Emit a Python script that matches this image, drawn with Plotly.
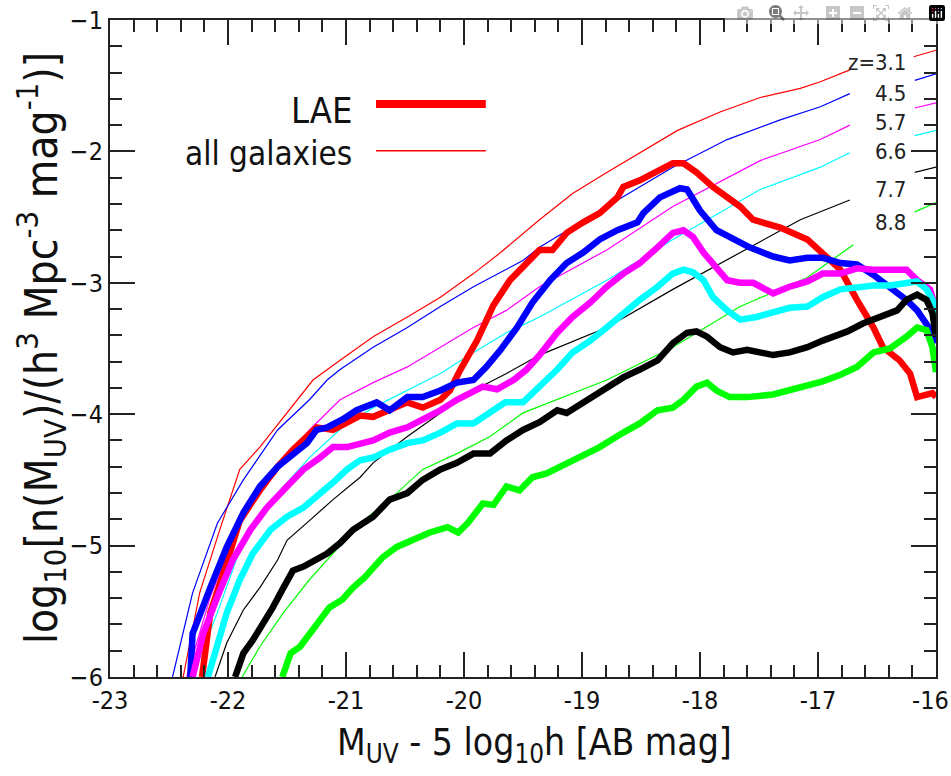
import plotly.graph_objects as go

# ---------------- data ----------------
redshifts = ["3.1", "4.5", "5.7", "6.6", "7.7", "8.8"]
colors = ["#ff0000", "#0000ff", "#ff00ff", "#00ffff", "#000000", "#00ff00"]

# all galaxies (thin lines) ; None marks the gap under the z labels
all_x_31 = [-22.38, -22.24, -22.07, -21.90, -21.73, -21.50, -21.28, -21.05, -20.77, -20.48, -20.20, -19.92, -19.69, -19.36, -19.08, -18.79, -18.51, -18.19, -17.83, -17.49, -17.15, -16.98, -16.73, None, -16.19, -16.0]
all_y_31 = [-6.0, -5.36, -4.88, -4.42, -4.25, -3.99, -3.74, -3.59, -3.41, -3.26, -3.11, -2.93, -2.77, -2.52, -2.32, -2.16, -2.01, -1.84, -1.70, -1.59, -1.52, -1.47, -1.38, None, -1.28, -1.23]

all_x_45 = [-22.47, -22.30, -22.09, -21.87, -21.58, -21.31, -21.16, -21.05, -20.77, -20.48, -20.20, -19.92, -19.50, -19.36, -18.79, -18.23, -17.77, -17.32, -16.98, -16.73, None, -16.18, -16.0]
all_y_45 = [-6.0, -5.36, -4.83, -4.50, -4.12, -3.89, -3.74, -3.66, -3.49, -3.34, -3.18, -3.03, -2.83, -2.73, -2.42, -2.12, -1.91, -1.76, -1.66, -1.56, None, -1.46, -1.41]

all_x_57 = [-22.35, -22.15, -21.87, -21.58, -21.31, -21.05, -20.77, -20.48, -20.20, -19.92, -19.64, -19.36, -18.79, -18.23, -17.49, -16.98, -16.73, None, -16.18, -16.0]
all_y_57 = [-6.0, -5.39, -4.77, -4.42, -4.12, -3.89, -3.76, -3.64, -3.49, -3.34, -3.21, -3.03, -2.75, -2.42, -2.07, -1.91, -1.80, None, -1.67, -1.63]

all_x_66 = [-22.30, -22.09, -21.87, -21.58, -21.31, -21.03, -20.77, -20.48, -20.20, -19.92, -19.64, -19.36, -18.79, -18.23, -17.49, -16.98, -16.73, None, -16.18, -16.0]
all_y_66 = [-6.0, -5.51, -4.96, -4.60, -4.33, -4.10, -3.95, -3.82, -3.69, -3.53, -3.38, -3.26, -2.98, -2.67, -2.29, -2.12, -2.01, None, -1.88, -1.84]

all_x_77 = [-22.11, -22.01, -21.87, -21.73, -21.58, -21.50, -21.31, -21.11, -20.88, -20.77, -20.48, -20.20, -19.92, -19.64, -19.36, -18.79, -18.23, -17.66, -17.15, -16.73, None, -16.18, -16.0]
all_y_77 = [-6.0, -5.74, -5.49, -5.32, -5.11, -4.96, -4.81, -4.65, -4.48, -4.37, -4.17, -3.99, -3.82, -3.69, -3.55, -3.34, -3.05, -2.77, -2.52, -2.37, None, -2.16, -2.12]

all_x_88 = [-21.88, -21.73, -21.53, -21.31, -21.03, -20.88, -20.63, -20.35, -20.06, -19.78, -19.50, -19.19, -18.79, -18.23, -17.66, -17.09, -16.70, None, -16.18, -16.0]
all_y_88 = [-6.0, -5.77, -5.51, -5.26, -4.98, -4.83, -4.65, -4.42, -4.30, -4.17, -3.99, -3.88, -3.74, -3.49, -3.18, -2.96, -2.71, None, -2.46, -2.39]

# LAE (thick lines)
lae_x_31 = [-22.22, -22.15, -22.01, -21.90, -21.73, -21.58, -21.45, -21.33, -21.25, -21.11, -20.99, -20.88, -20.77, -20.63, -20.48, -20.35, -20.20, -20.12, -20.03, -19.89, -19.75, -19.61, -19.47, -19.36, -19.25, -19.13, -18.99, -18.85, -18.70, -18.65, -18.51, -18.34, -18.23, -18.14, -18.03, -17.89, -17.77, -17.66, -17.55, -17.32, -17.09, -16.96, -16.81, -16.67, -16.53, -16.45, -16.31, -16.22, -16.16, -16.03, -16.0]
lae_y_31 = [-6.0, -5.51, -5.13, -4.81, -4.58, -4.40, -4.27, -4.17, -4.10, -4.12, -4.06, -4.01, -4.02, -3.97, -3.91, -3.95, -3.89, -3.82, -3.66, -3.44, -3.17, -2.98, -2.85, -2.75, -2.75, -2.62, -2.54, -2.47, -2.35, -2.27, -2.22, -2.14, -2.09, -2.09, -2.16, -2.27, -2.35, -2.42, -2.52, -2.58, -2.67, -2.77, -2.90, -3.13, -3.34, -3.49, -3.59, -3.69, -3.87, -3.84, -3.87]

lae_x_45 = [-22.32, -22.30, -22.15, -22.01, -21.87, -21.73, -21.58, -21.45, -21.33, -21.25, -21.16, -21.03, -20.91, -20.74, -20.63, -20.48, -20.35, -20.20, -20.06, -19.92, -19.81, -19.69, -19.55, -19.42, -19.27, -19.13, -18.99, -18.85, -18.70, -18.53, -18.48, -18.34, -18.17, -18.11, -18.0, -17.86, -17.75, -17.58, -17.38, -17.24, -17.09, -16.96, -16.81, -16.67, -16.53, -16.39, -16.25, -16.16, -16.08, -16.03, -16.0]
lae_y_45 = [-6.0, -5.67, -5.32, -5.01, -4.75, -4.55, -4.40, -4.30, -4.22, -4.12, -4.10, -4.04, -3.97, -3.91, -3.97, -3.87, -3.87, -3.82, -3.76, -3.74, -3.64, -3.51, -3.34, -3.15, -2.98, -2.85, -2.77, -2.67, -2.60, -2.54, -2.47, -2.35, -2.28, -2.29, -2.45, -2.60, -2.65, -2.73, -2.80, -2.83, -2.81, -2.81, -2.85, -2.86, -2.94, -3.03, -3.13, -3.21, -3.31, -3.38, -3.46]

lae_x_57 = [-22.30, -22.21, -22.09, -21.96, -21.81, -21.67, -21.50, -21.36, -21.22, -21.11, -20.99, -20.88, -20.77, -20.63, -20.48, -20.35, -20.20, -20.06, -19.92, -19.84, -19.72, -19.58, -19.47, -19.36, -19.21, -19.08, -18.93, -18.79, -18.65, -18.51, -18.36, -18.23, -18.14, -18.06, -17.97, -17.89, -17.77, -17.66, -17.55, -17.38, -17.24, -17.09, -16.96, -16.81, -16.67, -16.53, -16.39, -16.25, -16.16, -16.05, -16.0]
lae_y_57 = [-6.0, -5.67, -5.39, -5.11, -4.88, -4.71, -4.55, -4.42, -4.33, -4.25, -4.25, -4.23, -4.20, -4.14, -4.10, -4.04, -3.97, -3.89, -3.82, -3.79, -3.81, -3.74, -3.66, -3.55, -3.38, -3.26, -3.15, -3.03, -2.93, -2.85, -2.73, -2.62, -2.60, -2.65, -2.77, -2.85, -2.98, -3.00, -3.00, -3.08, -3.03, -2.99, -2.93, -2.93, -2.89, -2.90, -2.90, -2.90, -2.98, -3.05, -3.21]

lae_x_66 = [-22.17, -22.09, -22.01, -21.90, -21.79, -21.64, -21.50, -21.36, -21.25, -21.11, -20.99, -20.88, -20.77, -20.63, -20.48, -20.35, -20.20, -20.06, -19.92, -19.78, -19.65, -19.50, -19.36, -19.21, -19.08, -18.93, -18.79, -18.65, -18.51, -18.36, -18.23, -18.14, -18.06, -17.97, -17.89, -17.77, -17.66, -17.52, -17.38, -17.24, -17.09, -16.96, -16.81, -16.67, -16.53, -16.39, -16.25, -16.16, -16.08, -16.03, -16.0]
lae_y_66 = [-6.0, -5.77, -5.51, -5.26, -5.06, -4.88, -4.78, -4.71, -4.63, -4.52, -4.42, -4.35, -4.33, -4.27, -4.22, -4.20, -4.14, -4.07, -4.07, -3.99, -3.91, -3.91, -3.79, -3.66, -3.53, -3.44, -3.34, -3.23, -3.13, -3.03, -2.93, -2.90, -2.92, -2.98, -3.11, -3.21, -3.28, -3.26, -3.23, -3.19, -3.18, -3.11, -3.05, -3.03, -3.02, -3.02, -3.00, -2.99, -3.05, -3.13, -3.28]

lae_x_77 = [-21.94, -21.87, -21.79, -21.70, -21.62, -21.53, -21.45, -21.36, -21.28, -21.16, -21.05, -20.94, -20.77, -20.63, -20.48, -20.35, -20.20, -20.06, -19.92, -19.78, -19.64, -19.50, -19.36, -19.21, -19.13, -18.99, -18.79, -18.65, -18.51, -18.36, -18.23, -18.11, -18.03, -17.94, -17.83, -17.72, -17.60, -17.49, -17.38, -17.24, -17.09, -16.96, -16.75, -16.62, -16.47, -16.33, -16.25, -16.16, -16.08, -16.03, -16.0]
lae_y_77 = [-6.0, -5.82, -5.72, -5.59, -5.47, -5.32, -5.19, -5.16, -5.12, -5.06, -4.98, -4.88, -4.78, -4.65, -4.60, -4.50, -4.42, -4.37, -4.30, -4.30, -4.20, -4.12, -4.06, -3.97, -3.99, -3.91, -3.79, -3.72, -3.66, -3.59, -3.46, -3.38, -3.37, -3.41, -3.49, -3.53, -3.51, -3.53, -3.55, -3.53, -3.49, -3.44, -3.37, -3.31, -3.26, -3.21, -3.13, -3.09, -3.13, -3.23, -3.41]

lae_x_88 = [-21.54, -21.47, -21.39, -21.31, -21.22, -21.14, -21.03, -20.94, -20.84, -20.69, -20.57, -20.43, -20.29, -20.14, -20.05, -19.97, -19.84, -19.75, -19.64, -19.53, -19.42, -19.30, -19.19, -18.99, -18.85, -18.65, -18.51, -18.36, -18.23, -18.14, -18.03, -17.94, -17.86, -17.75, -17.60, -17.38, -17.24, -17.09, -16.96, -16.81, -16.67, -16.53, -16.39, -16.25, -16.16, -16.08, -16.03, -16.0]
lae_y_88 = [-6.0, -5.82, -5.77, -5.67, -5.57, -5.47, -5.41, -5.32, -5.24, -5.09, -5.01, -4.96, -4.90, -4.86, -4.90, -4.83, -4.68, -4.69, -4.55, -4.58, -4.48, -4.45, -4.40, -4.31, -4.25, -4.14, -4.07, -3.97, -3.95, -3.89, -3.79, -3.76, -3.82, -3.87, -3.87, -3.85, -3.82, -3.79, -3.75, -3.70, -3.64, -3.53, -3.50, -3.41, -3.34, -3.36, -3.49, -3.68]

x_tickvals = [-23, -22, -21, -20, -19, -18, -17, -16]
# trailing en-space on the last label keeps it inside the page, as in the reference
x_ticktext = ["-23", "-22", "-21", "-20", "-19", "-18", "-17", "-16\u2002"]
y_tickvals = [-6, -5, -4, -3, -2, -1]
y_ticktext = ["\u22126", "\u22125", "\u22124", "\u22123", "\u22122", "\u22121"]

all_x = [all_x_31, all_x_45, all_x_57, all_x_66, all_x_77, all_x_88]
all_y = [all_y_31, all_y_45, all_y_57, all_y_66, all_y_77, all_y_88]
lae_x = [lae_x_31, lae_x_45, lae_x_57, lae_x_66, lae_x_77, lae_x_88]
lae_y = [lae_y_31, lae_y_45, lae_y_57, lae_y_66, lae_y_77, lae_y_88]

FONT = "DejaVu Sans Condensed, Liberation Sans Narrow, sans-serif"
TC = "#222"

fig = go.Figure()
for xs, ys, c, z in zip(all_x, all_y, colors, redshifts):
    fig.add_trace(go.Scatter(x=xs, y=ys, mode="lines", line=dict(color=c, width=1.2),
                             connectgaps=False, showlegend=False, name="all z=" + z))
for xs, ys, c, z in zip(lae_x, lae_y, colors, redshifts):
    fig.add_trace(go.Scatter(x=xs, y=ys, mode="lines", line=dict(color=c, width=6.5),
                             showlegend=False, name="LAE z=" + z))

# redshift labels
label_y = [-1.32, -1.56, -1.78, -2.00, -2.29, -2.54]
label_txt = ["z=3.1", "4.5", "5.7", "6.6", "7.7", "8.8"]
for t, yv in zip(label_txt, label_y):
    fig.add_annotation(x=-16.24, y=yv, text=t, showarrow=False, xanchor="right", yanchor="middle",
                       font=dict(family=FONT, size=22, color="#222"))

# legend (drawn manually: text on the left, line sample on the right)
fig.add_annotation(x=0.295, y=0.863, xref="paper", yref="paper", text="LAE", showarrow=False,
                   xanchor="right", yanchor="middle", font=dict(family=FONT, size=36, color="#111"))
fig.add_annotation(x=0.295, y=0.797, xref="paper", yref="paper", text="all galaxies", showarrow=False,
                   xanchor="right", yanchor="middle", font=dict(family=FONT, size=33, color="#111"))
fig.add_shape(type="line", xref="paper", yref="paper", x0=0.322, x1=0.455, y0=0.872, y1=0.872,
              line=dict(color="#ff0000", width=8))
fig.add_shape(type="line", xref="paper", yref="paper", x0=0.322, x1=0.455, y0=0.801, y1=0.801,
              line=dict(color="#ff0000", width=1.5))

# axis titles as annotations (placed like the reference)
fig.add_annotation(x=0.5145, y=-0.104, xref="paper", yref="paper", showarrow=False,
                   text="M<sub>UV</sub> - 5 log<sub>10</sub>h [AB mag]",
                   xanchor="center", yanchor="middle", font=dict(family=FONT, size=37, color="#111"))
fig.add_annotation(x=-0.084, y=0.50, xref="paper", yref="paper", showarrow=False, textangle=-90,
                   text="log<sub>10</sub>[n(M<sub>UV</sub>)/(h<sup>3</sup> Mpc<sup>-3</sup> mag<sup>-1</sup>)]",
                   xanchor="center", yanchor="middle", font=dict(family=FONT, size=44, color="#111"))

common = dict(showgrid=False, zeroline=False, showline=True, linecolor=TC, linewidth=2,
              mirror="allticks", automargin=False, ticklabeloverflow="allow",
              ticks="inside", ticklen=25, tickwidth=2, tickcolor=TC,
              tickfont=dict(family=FONT, size=25, color="#111"))

fig.update_layout(
    width=951, height=776,
    margin=dict(l=110, r=15, t=20, b=99),
    plot_bgcolor="white", paper_bgcolor="white",
    xaxis=dict(range=[-23, -16], tickmode="array", tickvals=x_tickvals, ticktext=x_ticktext,
               minor=dict(dtick=0.2, ticks="inside", ticklen=12, tickwidth=2, tickcolor=TC),
               **common),
    yaxis=dict(range=[-6, -1], tickmode="array", tickvals=y_tickvals, ticktext=y_ticktext,
               minor=dict(dtick=0.2, ticks="inside", ticklen=12, tickwidth=2, tickcolor=TC),
               **common),
)

fig.write_html("out.html",
               post_script="document.body.style.margin='0';document.body.style.overflow='hidden';")
